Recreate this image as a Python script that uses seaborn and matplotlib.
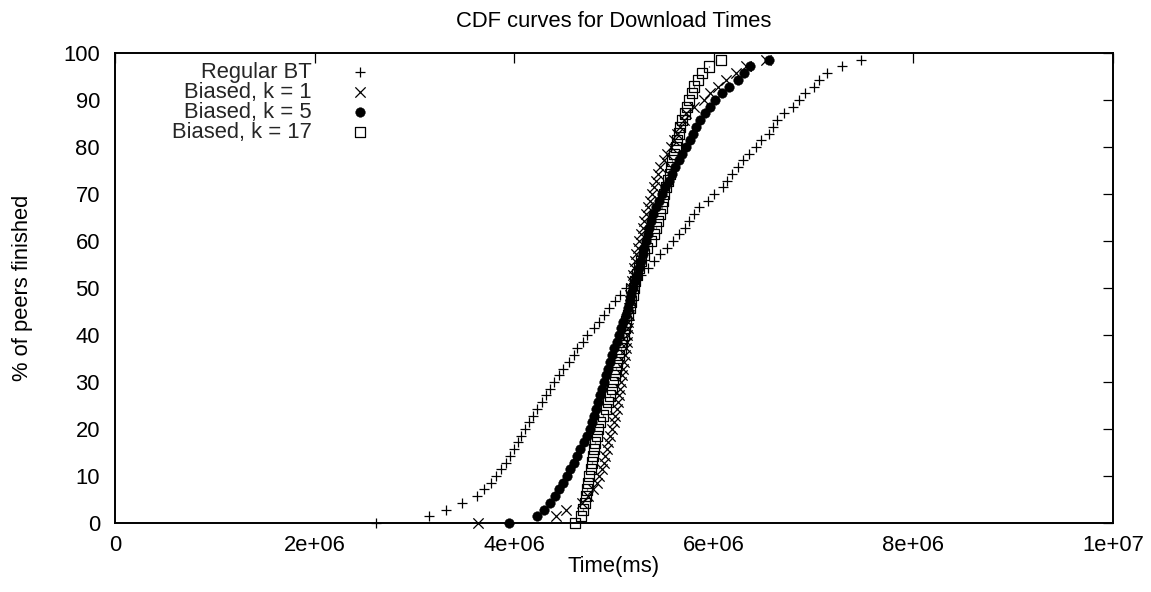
import numpy as np
import pandas as pd
import matplotlib
matplotlib.use("Agg")
import matplotlib.pyplot as plt
from matplotlib.path import Path
import seaborn as sns

# ---------------- data (download times, in units of 1e6 ms) ----------------
series_names = ["Regular BT", "Biased, k = 1", "Biased, k = 5", "Biased, k = 17"]

regular_bt = [2.62, 3.15, 3.32, 3.48, 3.63, 3.70, 3.77, 3.82, 3.87, 3.92,
              3.96, 4.00, 4.04, 4.07, 4.11, 4.15, 4.19, 4.23, 4.28, 4.32,
              4.36, 4.40, 4.45, 4.49, 4.55, 4.60, 4.63, 4.69, 4.73, 4.80,
              4.85, 4.90, 4.95, 5.01, 5.06, 5.12, 5.20, 5.27, 5.34, 5.40,
              5.46, 5.53, 5.59, 5.65, 5.71, 5.75, 5.80, 5.85, 5.94, 6.00,
              6.09, 6.13, 6.18, 6.24, 6.29, 6.35, 6.42, 6.47, 6.55, 6.59,
              6.63, 6.70, 6.79, 6.85, 6.91, 7.00, 7.05, 7.13, 7.28, 7.47]

biased_k1 = [3.64, 4.42, 4.52, 4.68, 4.74, 4.79, 4.83, 4.85, 4.88, 4.90,
             4.91, 4.93, 4.94, 4.96, 4.98, 5.00, 5.01, 5.03, 5.04, 5.05,
             5.06, 5.07, 5.08, 5.09, 5.10, 5.11, 5.12, 5.13, 5.13, 5.14,
             5.14, 5.15, 5.15, 5.16, 5.16, 5.17, 5.18, 5.19, 5.20, 5.21,
             5.22, 5.24, 5.25, 5.27, 5.29, 5.30, 5.32, 5.34, 5.36, 5.38,
             5.40, 5.42, 5.44, 5.46, 5.50, 5.53, 5.57, 5.60, 5.63, 5.66,
             5.70, 5.72, 5.80, 5.90, 5.96, 6.04, 6.12, 6.22, 6.32, 6.52]

biased_k5 = [3.95, 4.23, 4.30, 4.36, 4.41, 4.45, 4.49, 4.53, 4.56, 4.60,
             4.63, 4.66, 4.70, 4.73, 4.76, 4.78, 4.80, 4.82, 4.84, 4.86,
             4.88, 4.90, 4.92, 4.94, 4.96, 4.98, 5.00, 5.03, 5.05, 5.07,
             5.09, 5.12, 5.14, 5.16, 5.17, 5.19, 5.21, 5.23, 5.25, 5.27,
             5.29, 5.30, 5.32, 5.34, 5.35, 5.37, 5.39, 5.42, 5.45, 5.48,
             5.51, 5.55, 5.58, 5.61, 5.65, 5.68, 5.72, 5.76, 5.79, 5.82,
             5.86, 5.91, 5.96, 6.01, 6.08, 6.15, 6.24, 6.30, 6.36, 6.55]

biased_k17 = [4.61, 4.67, 4.69, 4.71, 4.72, 4.73, 4.74, 4.75, 4.77, 4.78,
              4.79, 4.80, 4.81, 4.83, 4.84, 4.86, 4.89, 4.92, 4.94, 4.96,
              4.98, 4.99, 5.01, 5.02, 5.03, 5.05, 5.07, 5.08, 5.10, 5.11,
              5.12, 5.14, 5.16, 5.17, 5.19, 5.20, 5.21, 5.23, 5.25, 5.27,
              5.30, 5.33, 5.37, 5.40, 5.42, 5.44, 5.46, 5.48, 5.49, 5.50,
              5.52, 5.54, 5.56, 5.57, 5.58, 5.60, 5.62, 5.63, 5.65, 5.66,
              5.68, 5.71, 5.73, 5.75, 5.78, 5.80, 5.84, 5.88, 5.95, 6.07]

x_ticks = [0, 2e6, 4e6, 6e6, 8e6, 1e7]
x_tick_labels = ["0", "2e+06", "4e+06", "6e+06", "8e+06", "1e+07"]
y_ticks = [0, 10, 20, 30, 40, 50, 60, 70, 80, 90, 100]
y_tick_labels = ["0", "10", "20", "30", "40", "50", "60", "70", "80", "90", "100"]

title = "CDF curves for Download Times"
x_label = "Time(ms)"
y_label = "% of peers finished"

# ---------------- style ----------------
sns.set_style("white")
plt.rcParams["font.family"] = ["Liberation Sans", "DejaVu Sans"]
FS = 15.8

W, H = 1151, 592
fig = plt.figure(figsize=(W / 100, H / 100), dpi=100)
ax = fig.add_axes([115 / W, 1 - 523 / H, 998 / W, 470 / H])


def ecdf_frame(times):
    t = np.asarray(times) * 1e6
    n = len(t)
    pct = 100.0 * np.arange(n) / n
    return pd.DataFrame({"time": t, "pct": pct})


# square with a centre dot (gnuplot style open box)
d = 0.04
sq_verts = [(-1, -1), (1, -1), (1, 1), (-1, 1), (-1, -1),
            (-d, -d), (d, -d), (d, d), (-d, d), (-d, -d)]
sq_codes = [Path.MOVETO, Path.LINETO, Path.LINETO, Path.LINETO, Path.CLOSEPOLY] * 2
box_dot = Path(sq_verts, sq_codes)

lw = 0.9
sns.scatterplot(data=ecdf_frame(regular_bt), x="time", y="pct", marker="+",
                s=60, color="black", linewidth=lw, label=series_names[0],
                clip_on=False, ax=ax)
sns.scatterplot(data=ecdf_frame(biased_k1), x="time", y="pct", marker="x",
                s=55, color="black", linewidth=lw, label=series_names[1],
                clip_on=False, ax=ax)
sns.scatterplot(data=ecdf_frame(biased_k5), x="time", y="pct", marker="o",
                s=48, color="black", edgecolor="black", linewidth=0.3,
                label=series_names[2], clip_on=False, ax=ax)
sns.scatterplot(data=ecdf_frame(biased_k17), x="time", y="pct", marker=box_dot,
                s=55, facecolor="none", edgecolor="black", linewidth=lw,
                label=series_names[3], clip_on=False, ax=ax)

ax.set_xlim(0, 1e7)
ax.set_ylim(0, 100)
ax.set_xticks(x_ticks)
ax.set_xticklabels(x_tick_labels)
ax.set_yticks(y_ticks)
ax.set_yticklabels(y_tick_labels)

for sp in ax.spines.values():
    sp.set_visible(True)
    sp.set_color("black")
    sp.set_linewidth(1.4)

ax.tick_params(axis="both", which="major", direction="in", length=7.2,
               width=0.9, color="black", labelsize=FS, labelcolor="black",
               top=True, right=True)
ax.tick_params(axis="x", pad=8.6)
ax.tick_params(axis="y", pad=10.8)

ax.set_title(title, fontsize=FS, pad=18.4, color="black")
ax.set_xlabel(x_label, fontsize=FS, color="black")
ax.xaxis.set_label_coords(0.5, (523 - 556) / 470)
ax.set_ylabel(y_label, fontsize=FS, color="black")
ax.yaxis.set_label_coords((33 - 115) / 998, 0.5)

leg = ax.legend(loc="upper left", bbox_to_anchor=(172 / W, 1 - 62 / H),
                bbox_transform=fig.transFigure, frameon=False, fontsize=FS,
                markerfirst=False, borderpad=0, borderaxespad=0,
                handlelength=1.5, handletextpad=1.45, labelspacing=-0.05)

fig.savefig("out.png", dpi=100, facecolor="white")
